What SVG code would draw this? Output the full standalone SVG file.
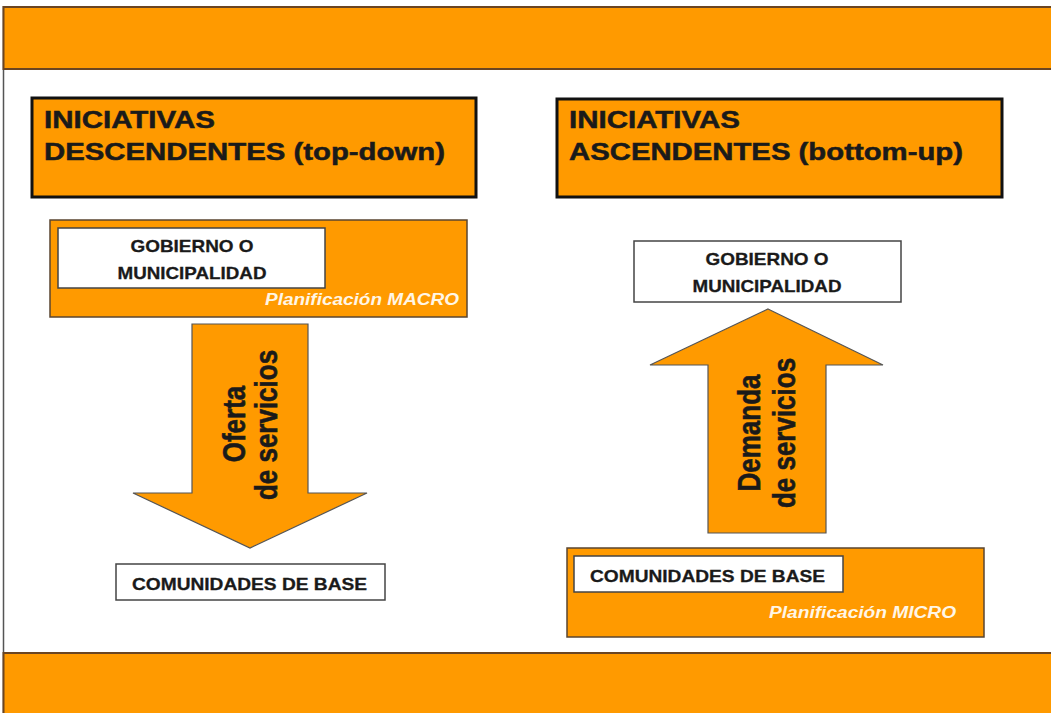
<svg xmlns="http://www.w3.org/2000/svg" width="1051" height="713" viewBox="0 0 1051 713">
<style>
.band{fill:#FF9A00;stroke:#6b4522;stroke-width:2}
.title{fill:#FF9A00;stroke:#111;stroke-width:3}
.panel{fill:#FF9A00;stroke:#5a4530;stroke-width:1.5}
.wbox{fill:#fff;stroke:#444;stroke-width:1.5}
.arrow{fill:#FF9A00;stroke:#555;stroke-width:1.2}
.t{font-family:"Liberation Sans",Arial,sans-serif;font-weight:bold;fill:#1a1a1a;stroke:#1a1a1a;stroke-width:0.5}
.tt{font-size:24px}
.nb{font-size:17px;stroke-width:0.3}
.pl{font-size:16px;font-style:italic;fill:#FFF6E6;stroke:none}
.ar{font-size:26px}
</style>
<rect x="0" y="0" width="1051" height="713" fill="#fff"/>
<line x1="3.5" y1="6" x2="3.5" y2="713" stroke="#555" stroke-width="1.5"/>
<rect class="band" x="3.5" y="7" width="1050" height="62"/>
<rect class="band" x="3.5" y="653" width="1050" height="64"/>

<g id="title-left">
<rect class="title" x="32" y="98" width="444" height="99"/>
<text class="t tt" x="44" y="128" textLength="171" lengthAdjust="spacingAndGlyphs">INICIATIVAS</text>
<text class="t tt" x="44" y="160" textLength="401" lengthAdjust="spacingAndGlyphs">DESCENDENTES (top-down)</text>
</g>
<g id="title-right">
<rect class="title" x="557" y="99" width="445" height="98"/>
<text class="t tt" x="569" y="128" textLength="171" lengthAdjust="spacingAndGlyphs">INICIATIVAS</text>
<text class="t tt" x="569" y="160" textLength="394" lengthAdjust="spacingAndGlyphs">ASCENDENTES (bottom-up)</text>
</g>

<g id="gobierno-left">
<rect class="panel" x="50" y="220" width="417" height="97"/>
<rect class="wbox" x="58" y="228" width="267" height="60"/>
<text class="t nb" x="192" y="252" text-anchor="middle" textLength="123" lengthAdjust="spacingAndGlyphs">GOBIERNO O</text>
<text class="t nb" x="192" y="279" text-anchor="middle" textLength="149" lengthAdjust="spacingAndGlyphs">MUNICIPALIDAD</text>
<text class="t pl" x="265" y="305" textLength="194" lengthAdjust="spacingAndGlyphs">Planificación MACRO</text>
</g>

<g id="comunidades-left">
<rect class="wbox" x="116" y="564" width="269" height="36"/>
<text class="t nb" x="132" y="590" textLength="235" lengthAdjust="spacingAndGlyphs">COMUNIDADES DE BASE</text>
</g>

<g id="gobierno-right">
<rect class="wbox" x="634" y="241" width="267" height="61"/>
<text class="t nb" x="767" y="265" text-anchor="middle" textLength="123" lengthAdjust="spacingAndGlyphs">GOBIERNO O</text>
<text class="t nb" x="767" y="292" text-anchor="middle" textLength="149" lengthAdjust="spacingAndGlyphs">MUNICIPALIDAD</text>
</g>

<g id="comunidades-right">
<rect class="panel" x="567" y="548" width="417" height="89"/>
<rect class="wbox" x="574" y="556" width="269" height="36"/>
<text class="t nb" x="590" y="582" textLength="235" lengthAdjust="spacingAndGlyphs">COMUNIDADES DE BASE</text>
<text class="t pl" x="769" y="618" textLength="187" lengthAdjust="spacingAndGlyphs">Planificación MICRO</text>
</g>

<g id="connectors">
<g id="arrow-down">
<polygon class="arrow" points="192,324 308,324 308,493 367,493 250,548 133,493 192,493"/>
<text class="t ar" text-anchor="middle" transform="translate(245,424) rotate(-90) scale(1,1.2)">Oferta</text>
<text class="t ar" text-anchor="middle" transform="translate(277,425) rotate(-90) scale(1,1.2)">de servicios</text>
</g>
<g id="arrow-up">
<polygon class="arrow" points="768,309 883,365 826,365 826,533 708,533 708,365 650,365"/>
<text class="t ar" text-anchor="middle" transform="translate(760,433) rotate(-90) scale(1,1.2)">Demanda</text>
<text class="t ar" text-anchor="middle" transform="translate(795,433) rotate(-90) scale(1,1.2)">de servicios</text>
</g>
</g>
</svg>
